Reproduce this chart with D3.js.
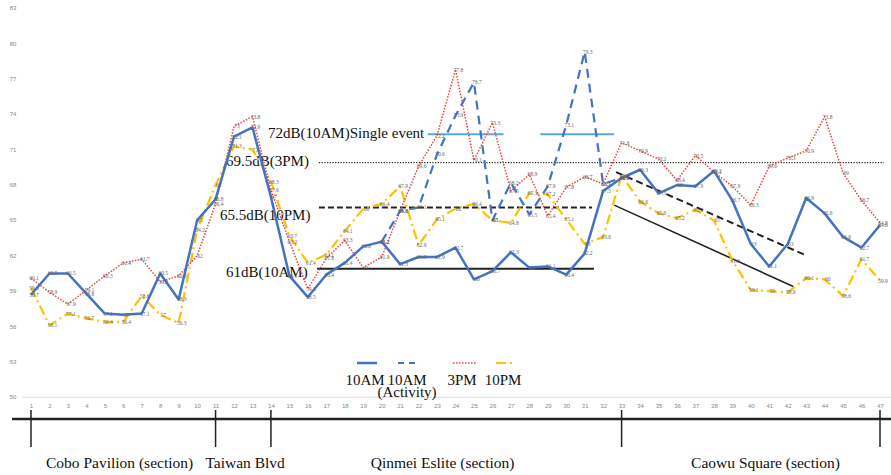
<!DOCTYPE html>
<meta charset="utf-8">
<head>
<script src="https://d3js.org/d3.v7.min.js"></script>
<style>
  body { margin: 0; background: #fff; }
  text { font-family: "Liberation Serif", "DejaVu Serif", serif; }
</style>
</head>
<body>
<div id="chart"></div>
<script>
// measuring points 1..47
var points = d3.range(1, 48);
var yTicks = [50, 53, 56, 59, 62, 65, 68, 71, 74, 77, 80, 83];

// noise levels (dB)
var am10 = [58.7, 60.5, 60.5, 58.8, 57.1, 57, 57.1, 60.5, 58.3, 65,
            66.8, 72.1, 72.9, 67, 60.3, 58.5, 60.4, 61.4, 62.8, 63.2,
            61.3, 61.9, 61.9, 62.7, 60, 60.7, 62.3, 61, 61.1, 60.4,
            62.2, 67.5, 68.6, 69.3, 67.3, 68, 67.9, 69.2, 66.7, 63,
            61.1, 63, 66.9, 65.6, 63.6, 62.7, 64.6];
// 10AM with activity (Qinmei Eslite only)
var am10Act = [null, null, null, null, null, null, null, null, null, null,
               null, null, null, null, null, null, null, null, null, 63.2,
               65.8, 66.1, 70.6, 73.9, 76.7, 65, 68.2, 65.5, 67.9, 73.1,
               79.3, 68.1, 68.6, null, null, null, null, null, null, null,
               null, null, null, null, null, null, null];
var pm3 = [60.1, 58.9, 57.9, 59.1, 60.3, 61.4, 61.7, 59.8, 60.3, 62,
           66.4, 73, 73.8, 67.6, 63.2, 59.2, 61.8, 63.3, 61, 61.9,
           65.8, 69.6, 72.2, 77.8, 70.1, 73.3, 67.5, 68.9, 65.4, 67.8,
           68.7, 68.1, 71.6, 70.9, 70.2, 68.4, 70.5, 69.1, 67.9, 66.3,
           69.6, 70.3, 70.9, 73.8, 69, 66.7, 64.8];
var pm10 = [59.3, 56.1, 57.1, 56.7, 56.4, 56.4, 58.6, 57, 56.3, 64.2,
            68, 71.3, 71, 68.3, 63.7, 61.4, 62.1, 64.1, 66, 66.4,
            67.9, 62.9, 65.1, 66, 66.4, 65, 64.8, 67.3, 67.2, 65.1,
            63, 63.6, 68.8, 66.6, 65.6, 65.2, 65.9, 65, 61.6, 59.1,
            59, 58.9, 60.1, 60, 58.6, 61.7, 59.9];

// reference levels and annotations
var refNames = ["72dB(10AM)Single event", "69.5dB(3PM)", "65.5dB(10PM)", "61dB(10AM)"];
var refLevels = [72.3, 69.9, 66.1, 60.9];
var singleEventSpans = [[22.5, 26.6], [28.6, 32.6]];
var trendFrom = [[32.7, 69.1], [32.6, 66.3]];
var trendTo = [[42.9, 62.1], [42.3, 59.4]];

// sections along the route
var sectionBounds = [1, 11, 14, 33, 47];
var sectionNames = ["Cobo Pavilion (section)", "Taiwan Blvd", "Qinmei Eslite (section)", "Caowu Square (section)"];
var sectionCenters = [5.8, 12.6, 23.3, 40.8];

var legendNames = ["10AM", "10AM", "3PM", "10PM"];

var W = 891, H = 475;
var svg = d3.select("#chart").append("svg")
  .attr("width", W).attr("height", H);

var x = d3.scaleLinear().domain([1, 47]).range([31, 880]);
var y = d3.scaleLinear().domain([50, 83]).range([397.3, 8.2]);

// y tick labels (no axis line)
svg.selectAll(".ytick")
  .data(yTicks)
  .enter().append("text")
    .attr("x", 13).attr("y", function(d) { return y(d) + 2; })
    .attr("text-anchor", "middle")
    .style("font-family", "Arial, sans-serif")
    .style("font-size", "6px").attr("fill", "#888")
    .text(function(d) { return d; });

// x axis at 50
var xAxis = svg.append("g")
  .attr("transform", "translate(0," + y(50) + ")")
  .call(d3.axisBottom(x).tickValues(points).tickSize(0).tickPadding(6));
xAxis.select(".domain").attr("stroke", "#ddd").attr("d", "M22,0H891");
xAxis.selectAll("text").style("font-size", "6px").attr("fill", "#888")
  .style("font-family", "Arial, sans-serif");

// section axis
svg.append("line")
  .attr("x1", 12).attr("x2", W).attr("y1", 419).attr("y2", 419)
  .attr("stroke", "#222").attr("stroke-width", 2.5);
svg.selectAll(".sec")
  .data(sectionBounds)
  .enter().append("line")
    .attr("x1", function(d) { return x(d); }).attr("x2", function(d) { return x(d); })
    .attr("y1", 410).attr("y2", 447)
    .attr("stroke", "#222").attr("stroke-width", 1.5);
svg.selectAll(".secname")
  .data(sectionNames)
  .enter().append("text")
    .attr("x", function(d, i) { return x(sectionCenters[i]); })
    .attr("y", 468)
    .attr("text-anchor", "middle")
    .style("font-size", "15.5px").attr("fill", "#111")
    .text(function(d) { return d; });

// reference lines
var refStyle = [
  {stroke: "#5aa6e0", dash: null, w: 2},
  {stroke: "#222", dash: "1.2,1.5", w: 1.3},
  {stroke: "#222", dash: "6,3", w: 2},
  {stroke: "#222", dash: null, w: 2}
];
singleEventSpans.forEach(function(s) {
  svg.append("line")
    .attr("x1", x(s[0])).attr("x2", x(s[1]))
    .attr("y1", y(refLevels[0])).attr("y2", y(refLevels[0]))
    .attr("stroke", refStyle[0].stroke).attr("stroke-width", 2);
});
var refSpans = [null, [16.6, 47.2], [16.6, 31.4], [16.5, 31.5]];
for (var r = 1; r < 4; r++) {
  svg.append("line")
    .attr("x1", x(refSpans[r][0])).attr("x2", x(refSpans[r][1]))
    .attr("y1", y(refLevels[r])).attr("y2", y(refLevels[r]))
    .attr("stroke", refStyle[r].stroke)
    .attr("stroke-width", refStyle[r].w)
    .attr("stroke-dasharray", refStyle[r].dash);
}
var refTextX = [268, 226, 220, 226];
var refTextY = [138, 166, 220, 277];
svg.selectAll(".reftext")
  .data(refNames)
  .enter().append("text")
    .attr("x", function(d, i) { return refTextX[i]; })
    .attr("y", function(d, i) { return refTextY[i]; })
    .style("font-size", "15px").attr("fill", "#111")
    .text(function(d) { return d; });

// trend lines in Caowu Square
svg.append("line")
  .attr("x1", x(trendFrom[0][0])).attr("y1", y(trendFrom[0][1]))
  .attr("x2", x(trendTo[0][0])).attr("y2", y(trendTo[0][1]))
  .attr("stroke", "#222").attr("stroke-width", 2).attr("stroke-dasharray", "7,4");
svg.append("line")
  .attr("x1", x(trendFrom[1][0])).attr("y1", y(trendFrom[1][1]))
  .attr("x2", x(trendTo[1][0])).attr("y2", y(trendTo[1][1]))
  .attr("stroke", "#222").attr("stroke-width", 1.6);

// series
var series = [
  {vals: pm10, color: "#FFC000", w: 2.2, dash: "10,4,2,4"},
  {vals: pm3, color: "#F0403C", w: 1.5, dash: "1.5,1.5"},
  {vals: am10Act, color: "#4472C4", w: 2.2, dash: "9,6"},
  {vals: am10, color: "#4472C4", w: 2.5, dash: null}
];
var line = d3.line()
  .defined(function(d) { return d != null; })
  .x(function(d, i) { return x(points[i]); })
  .y(function(d) { return y(d); });

series.forEach(function(s) {
  svg.append("path")
    .datum(s.vals)
    .attr("fill", "none")
    .attr("stroke", s.color)
    .attr("stroke-width", s.w)
    .attr("stroke-dasharray", s.dash)
    .attr("stroke-linejoin", "round")
    .attr("d", line);
});

// data labels
series.forEach(function(s) {
  svg.append("g").selectAll("text")
    .data(s.vals.map(function(v, i) { return {v: v, p: points[i]}; })
      .filter(function(d) { return d.v != null; }))
    .enter().append("text")
      .attr("x", function(d) { return x(d.p) + 3; })
      .attr("y", function(d) { return y(d.v) + 2; })
      .attr("text-anchor", "middle")
      .style("font-size", "5.5px").attr("fill", "#666")
      .text(function(d) { return d.v; });
});

// legend
var legX = [357, 398, 453, 496];
var legW = [20, 18, 24, 18];
var legStyle = [series[3], series[2], series[1], series[0]];
legStyle.forEach(function(s, i) {
  svg.append("line")
    .attr("x1", legX[i]).attr("x2", legX[i] + legW[i])
    .attr("y1", 363).attr("y2", 363)
    .attr("stroke", s.color).attr("stroke-width", s.w)
    .attr("stroke-dasharray", i == 1 ? "6,5" : s.dash);
});
var legTextX = [365, 407, 462, 503];
svg.selectAll(".legtext")
  .data(legendNames)
  .enter().append("text")
    .attr("x", function(d, i) { return legTextX[i]; })
    .attr("y", 385)
    .attr("text-anchor", "middle")
    .style("font-size", "15px").attr("fill", "#111")
    .text(function(d) { return d; });
svg.append("text")
  .attr("x", 407).attr("y", 397)
  .attr("text-anchor", "middle")
  .style("font-size", "15px").attr("fill", "#111")
  .text("(Activity)");
</script>
</body>
